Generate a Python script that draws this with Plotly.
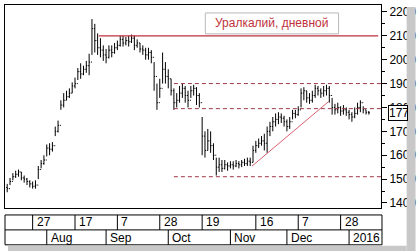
import plotly.graph_objects as go

# ---- data (trading-day index, OHLC) ----
close = [1460,1490,1510,1520,1530,1505,1500,1490,1480,1470,
         1475,1540,1565,1580,1630,1625,1640,1700,1725,1810,
         1830,1845,1860,1890,1900,1950,1940,1960,1975,1990,
         2130,2080,2050,2040,2020,2010,2040,2030,2050,2060,
         2085,2070,2080,2075,2090,2060,2070,2045,2040,2020,
         2030,2010,1930,1820,1880,1960,1930,1920,1870,1820,
         1830,1860,1880,1850,1830,1870,1880,1850,1820,1680,
         1620,1660,1640,1600,1550,1560,1545,1560,1555,1560,
         1555,1565,1560,1570,1565,1575,1570,1620,1640,1650,
         1660,1650,1700,1720,1740,1750,1760,1755,1740,1720,
         1740,1775,1770,1790,1860,1870,1840,1830,1850,1880,
         1870,1860,1870,1880,1850,1800,1790,1800,1785,1790,
         1780,1770,1760,1775,1800,1820,1790,1780,1778]
high = [1480,1505,1525,1535,1540,1530,1515,1505,1495,1490,
        1495,1555,1580,1600,1645,1650,1655,1720,1745,1830,
        1860,1870,1880,1905,1925,1965,1985,1975,1995,2025,
        2170,2150,2110,2090,2060,2045,2060,2060,2070,2080,
        2100,2100,2095,2100,2105,2100,2085,2070,2060,2050,
        2050,2040,1990,1900,1920,2030,1990,1960,1920,1880,
        1860,1890,1900,1890,1870,1890,1895,1885,1860,1760,
        1700,1710,1700,1650,1590,1590,1580,1580,1570,1575,
        1575,1580,1575,1580,1585,1590,1590,1640,1660,1670,
        1680,1690,1720,1740,1760,1775,1780,1775,1765,1750,
        1760,1790,1790,1805,1880,1885,1870,1860,1870,1895,
        1890,1880,1890,1895,1890,1840,1815,1820,1805,1810,
        1800,1790,1780,1800,1820,1830,1805,1790,1785]
low = [1445,1475,1495,1505,1510,1495,1485,1475,1465,1460,
       1460,1500,1545,1560,1595,1600,1615,1680,1695,1790,
       1800,1830,1840,1860,1880,1915,1920,1935,1945,1935,
       2020,2030,2020,2010,1995,1985,2005,2010,2025,2040,
       2055,2055,2060,2055,2070,2040,2050,2030,2020,2000,
       2000,1985,1870,1790,1840,1900,1900,1880,1850,1790,
       1800,1820,1840,1820,1800,1840,1850,1810,1800,1600,
       1590,1620,1610,1580,1515,1530,1530,1540,1535,1545,
       1540,1550,1545,1550,1555,1555,1555,1570,1610,1630,
       1640,1620,1610,1680,1700,1720,1730,1735,1720,1700,
       1710,1750,1755,1765,1800,1830,1820,1815,1820,1840,
       1850,1840,1845,1850,1820,1770,1770,1775,1765,1770,
       1765,1750,1740,1755,1770,1780,1775,1770,1770]
open_ = [close[0] + 5] + close[:-1]
idx = list(range(len(close)))

# y axis ticks
y_ticks = [1400, 1500, 1600, 1700, 1800, 1900, 2000, 2100, 2200]
y_tick_text = [str(v) for v in y_ticks]

# date strip: (bar index, label)
day_idx = [9, 24, 39, 54, 69, 88, 103, 118]
day_txt = ["27", "17", "7", "28", "19", "16", "7", "28"]
month_idx = [14, 35, 57, 79, 99, 121]
month_txt = ["Aug", "Sep", "Oct", "Nov", "Dec", "2016"]

# drawn levels
solid_level = 2100
solid_span = [32.4, 131.3]
dash_levels = [1900, 1795, 1510]
dash_span = [59, 132.3]
trend_x = [86.6, 113.8]
trend_y = [1554, 1825]

title_text = "Уралкалий, дневной"

# ---- figure ----
W, H = 420, 251
ML, MR, MT, MB = 5, 34, 4, 43
PW, PH = W - ML - MR, H - MT - MB
FONT = "Liberation Sans, Arial"

def px_x(p):
    return (p - ML) / PW

def px_y(p):
    return (H - MB - p) / PH

fig = go.Figure()
fig.add_trace(go.Ohlc(
    x=idx, open=open_, high=high, low=low, close=close,
    increasing=dict(line=dict(color="black", width=1)),
    decreasing=dict(line=dict(color="black", width=1)),
    tickwidth=0.35, hoverinfo="skip", showlegend=False,
))

RED = "#c0303c"
shapes = []
shapes.append(dict(type="line", xref="x", yref="y", x0=solid_span[0], x1=solid_span[1],
                   y0=solid_level, y1=solid_level, line=dict(color=RED, width=1.3)))
for lv in dash_levels:
    shapes.append(dict(type="line", xref="x", yref="y", x0=dash_span[0], x1=dash_span[1],
                       y0=lv, y1=lv, line=dict(color="#a03848", width=1, dash="4px,3px")))
shapes.append(dict(type="line", xref="x", yref="y", x0=trend_x[0], x1=trend_x[1],
                   y0=trend_y[0], y1=trend_y[1], line=dict(color="#d86070", width=1)))

# title box
shapes.append(dict(type="rect", xref="paper", yref="paper",
                   x0=px_x(208), x1=px_x(343), y0=px_y(33), y1=px_y(12),
                   line=dict(color="#b8b8b8", width=1), fillcolor="white", layer="above"))

# date strip box
shapes.append(dict(type="rect", xref="paper", yref="paper",
                   x0=px_x(5), x1=px_x(387), y0=px_y(245), y1=px_y(215),
                   line=dict(color="black", width=1), fillcolor="white"))
shapes.append(dict(type="line", xref="paper", yref="paper",
                   x0=px_x(5), x1=px_x(387), y0=px_y(230), y1=px_y(230),
                   line=dict(color="black", width=1)))
for d in day_idx:
    shapes.append(dict(type="line", xref="x", yref="paper", x0=d, x1=d,
                       y0=px_y(230), y1=px_y(215), line=dict(color="black", width=1)))
for m in month_idx:
    shapes.append(dict(type="line", xref="x", yref="paper", x0=m, x1=m,
                       y0=px_y(245), y1=px_y(230), line=dict(color="black", width=1)))

# shadows
shapes.append(dict(type="rect", xref="paper", yref="paper",
                   x0=px_x(412), x1=px_x(421), y0=px_y(252), y1=px_y(6),
                   line=dict(width=0), fillcolor="#c8c8c8", layer="above"))
shapes.append(dict(type="rect", xref="paper", yref="paper",
                   x0=px_x(8), x1=px_x(412), y0=px_y(252), y1=px_y(246),
                   line=dict(width=0), fillcolor="#c8c8c8", layer="above"))

annotations = []
annotations.append(dict(xref="paper", yref="paper", x=px_x(275.5), y=px_y(22.5),
                        xanchor="center", yanchor="middle",
                        text=title_text, showarrow=False,
                        font=dict(family=FONT, size=12, color=RED)))
for d, t in zip(day_idx, day_txt):
    annotations.append(dict(xref="x", yref="paper", x=d, y=px_y(222.5), text=t,
                            xanchor="left", yanchor="middle", xshift=2, showarrow=False,
                            font=dict(family=FONT, size=12, color="black")))
for m, t in zip(month_idx, month_txt):
    annotations.append(dict(xref="x", yref="paper", x=m, y=px_y(237.8), text=t,
                            xanchor="left", yanchor="middle", xshift=2, showarrow=False,
                            font=dict(family=FONT, size=12, color="black")))
annotations.append(dict(xref="paper", yref="y", x=px_x(393), y=close[-1],
                        text=f"{close[-1]:.0f}", xanchor="left", yanchor="middle",
                        showarrow=False, width=18, align="left",
                        bgcolor="white", bordercolor="black", borderwidth=1, borderpad=0,
                        font=dict(family=FONT, size=12, color="black")))

fig.update_layout(
    width=W, height=H, margin=dict(l=ML, r=MR, t=MT, b=MB),
    paper_bgcolor="white", plot_bgcolor="white",
    shapes=shapes, annotations=annotations, showlegend=False,
    xaxis=dict(range=[-0.78, 132.3], showgrid=False, zeroline=False,
               showticklabels=False, ticks="", showline=True, linecolor="black",
               linewidth=1, mirror=True, rangeslider=dict(visible=False), fixedrange=True),
    yaxis=dict(range=[1379, 2229], side="right", showgrid=False, zeroline=False,
               tickvals=y_ticks, ticktext=y_tick_text, ticks="outside", ticklen=5,
               tickcolor="black", showline=True, linecolor="black", linewidth=1,
               mirror=True, ticklabelstandoff=0,
               minor=dict(tickvals=[v + 50 for v in y_ticks[:-1]], ticks="outside",
                          ticklen=3, tickcolor="black"),
               tickfont=dict(family=FONT, size=12, color="black"),
               fixedrange=True),
)

fig.write_html("out.html")
